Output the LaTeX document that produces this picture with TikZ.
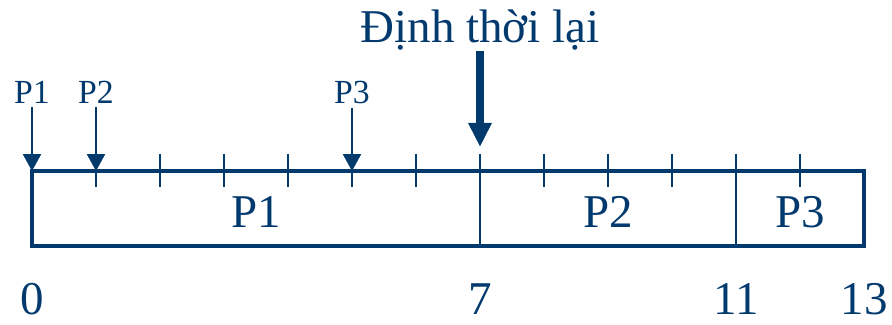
\documentclass[tikz,border=0pt]{standalone}
\usepackage{fontspec}
\setmainfont{Liberation Serif}
\usepackage{tikz}
\usetikzlibrary{arrows.meta,positioning}
\definecolor{gantblue}{HTML}{033A6E}

\begin{document}
\begin{tikzpicture}[
    every node/.style={text=gantblue, inner sep=0pt},
    biglbl/.style={font=\fontsize{20.9}{24}\selectfont, anchor=base},
    arrlbl/.style={font=\fontsize{15}{18}\selectfont, anchor=base},
    box/.style={draw=gantblue, line width=2.2pt},
    divider/.style={draw=gantblue, line width=0.9pt},
    tick/.style={draw=gantblue, line width=0.9pt},
    arrive/.style={-{Triangle[length=7.5pt, width=8pt]}, line width=0.9pt, gantblue},
    resched/.style={-{Triangle[length=10.7pt, width=9.8pt]}, line width=3.5pt, gantblue}
]
    \useasboundingbox (-0.5,-2.406) rectangle (13.4375,2.672);

    % time line with ticks
    \foreach \i in {1,...,12}
        \draw[tick] (\i,0.266) -- (\i,-0.25);
    \draw[divider] (7,0) -- (7,-1.172);
    \draw[divider] (11,0) -- (11,-1.172);
    \draw[box] (0,0) rectangle (13,-1.172);

    % processes in the chart
    \node[biglbl] (run1) at (3.5,-0.875) {P1};
    \node[biglbl] (run2) at (9,-0.875) {P2};
    \node[biglbl] (run3) at (12,-0.875) {P3};

    % time stamps
    \node[biglbl] (t0) at (0,-2.24) {0};
    \node[biglbl] (t7) at (7,-2.24) {7};
    \node[biglbl] (t11) at (11,-2.24) {11};
    \node[biglbl] (t13) at (13,-2.24) {13};

    % arrivals
    \node[arrlbl] (in1) at (0,1.047) {P1};
    \node[arrlbl] (in2) at (1,1.047) {P2};
    \node[arrlbl] (in3) at (5,1.047) {P3};
    \coordinate (at1) at (0,0);
    \coordinate (at2) at (1,0);
    \coordinate (at3) at (5,0);
    \draw[arrive] ([yshift=-1.3pt]in1.south) -- (at1);
    \draw[arrive] ([yshift=-1.3pt]in2.south) -- (at2);
    \draw[arrive] ([yshift=-1.3pt]in3.south) -- (at3);

    % rescheduling point
    \node[biglbl] (resch) at (7,2.0) {Định thời lại};
    \coordinate (at7) at (7,0.375);
    \draw[resched] (resch.south) -- (at7);
\end{tikzpicture}
\end{document}
